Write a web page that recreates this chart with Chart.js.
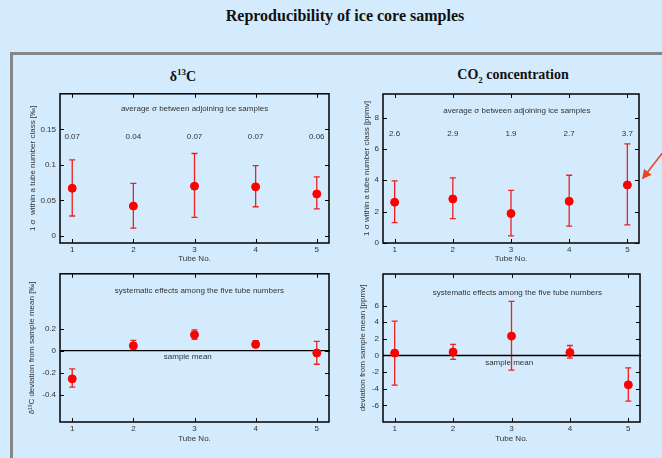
<!DOCTYPE html>
<html>
<head>
<meta charset="utf-8">
<title>Reproducibility of ice core samples</title>
<script src="https://cdn.jsdelivr.net/npm/chart.js@4.4.1/dist/chart.umd.min.js"></script>
<style>
    html, body { margin: 0; padding: 0; }
    body {
        width: 662px; height: 458px; overflow: hidden; position: relative;
        background: #d3ebfc;
        font-family: "Liberation Sans", Arial, sans-serif;
    }
    #mainTitle {
        position: absolute; left: 0; top: 7px; width: 690px; text-align: center;
        font: bold 16px "Liberation Serif", "Times New Roman", serif; color: #111;
    }
    #panel {
        position: absolute; left: 10px; top: 52px; width: 720px; height: 480px;
        border-top: 3px solid #868686; border-left: 3px solid #868686;
    }
    .head {
        position: absolute; width: 200px; text-align: center;
        font: bold 14px "Liberation Serif", "Times New Roman", serif; color: #111;
    }
    .box { position: absolute; width: 320px; height: 180px; }
    #arrow { position: absolute; left: 0; top: 0; }
</style>
</head>
<body>
<div id="mainTitle">Reproducibility of ice core samples</div>
<div id="panel"></div>
<div class="head" style="left:83px; top:67px;">&delta;<sup style="font-size:9px;">13</sup>C</div>
<div class="head" style="left:413px; top:67px;">CO<sub style="font-size:9px;">2</sub> concentration</div>

<div class="box" style="left:20px; top:85px;"><canvas id="sigmaD13C" width="320" height="180"></canvas></div>
<div class="box" style="left:343px; top:85px;"><canvas id="sigmaCO2" width="320" height="180"></canvas></div>
<div class="box" style="left:20px; top:265px;"><canvas id="devD13C" width="320" height="180"></canvas></div>
<div class="box" style="left:343px; top:265px;"><canvas id="devCO2" width="320" height="180"></canvas></div>

<svg id="arrow" width="662" height="458">
    <defs>
        <marker id="head" markerWidth="6" markerHeight="6" refX="5" refY="3" orient="auto">
            <path d="M0,0 L6,3 L0,6 z" fill="#ee4422"/>
        </marker>
    </defs>
    <line x1="664" y1="151" x2="643" y2="178" stroke="#ee4422" stroke-width="1.6" marker-end="url(#head)"/>
</svg>

<script>
// tube numbers (x axis)
const tubes = [1, 2, 3, 4, 5];
const xTicks = [1, 2, 3, 4, 5];

// d13C: 1 sigma within a tube number class [permil]
const d13cSigma = [0.067, 0.042, 0.070, 0.069, 0.059];
const d13cSigmaLow = [0.028, 0.011, 0.026, 0.041, 0.038];
const d13cSigmaHigh = [0.107, 0.074, 0.116, 0.099, 0.083];
const d13cSigmaLabels = ['0.07', '0.04', '0.07', '0.07', '0.06'];
const d13cSigmaTicks = [0, 0.05, 0.1, 0.15];

// CO2: 1 sigma within a tube number class [ppmv]
const co2Sigma = [2.6, 2.81, 1.88, 2.66, 3.7];
const co2SigmaLow = [1.3, 1.56, 0.45, 1.07, 1.15];
const co2SigmaHigh = [3.96, 4.15, 3.36, 4.32, 6.32];
const co2SigmaLabels = ['2.6', '2.9', '1.9', '2.7', '3.7'];
const co2SigmaTicks = [0, 2, 4, 6, 8];

// d13C deviation from sample mean [permil]
const d13cDev = [-0.257, 0.045, 0.145, 0.057, -0.021];
const d13cDevLow = [-0.333, 0.006, 0.103, 0.033, -0.124];
const d13cDevHigh = [-0.166, 0.094, 0.19, 0.09, 0.085];
const d13cDevTicks = [-0.4, -0.2, 0, 0.2];

// CO2 deviation from sample mean [ppmv]
const co2Dev = [0.29, 0.41, 2.33, 0.36, -3.53];
const co2DevLow = [-3.57, -0.48, -1.76, -0.31, -5.5];
const co2DevHigh = [4.14, 1.33, 6.5, 1.2, -1.48];
const co2DevTicks = [-6, -4, -2, 0, 2, 4, 6];

const TEXT = '#333';
const RED = '#ff0000';
const smallFont = { family: '"Liberation Sans", Arial, sans-serif', size: 8 };

// error bars under the points
const errorBars = {
    id: 'errorBars',
    beforeDatasetsDraw(chart, args, opts) {
        if (!opts.low) return;
        const { ctx, scales: { x, y } } = chart;
        ctx.save();
        ctx.strokeStyle = '#ee2020';
        ctx.lineWidth = 1.3;
        opts.low.forEach((lo, i) => {
            const px = x.getPixelForValue(tubes[i]);
            const y1 = y.getPixelForValue(lo);
            const y2 = y.getPixelForValue(opts.high[i]);
            ctx.beginPath();
            ctx.moveTo(px, y1); ctx.lineTo(px, y2);
            ctx.moveTo(px - 3, y1); ctx.lineTo(px + 3, y1);
            ctx.moveTo(px - 3, y2); ctx.lineTo(px + 3, y2);
            ctx.stroke();
        });
        ctx.restore();
    }
};

// box frame with inward ticks, zero line and notes
const frame = {
    id: 'frame',
    beforeDatasetsDraw(chart, args, opts) {
        const { ctx, chartArea: a, scales: { y } } = chart;
        if (opts.zeroLine) {
            const py = y.getPixelForValue(0);
            ctx.save();
            ctx.strokeStyle = '#000';
            ctx.lineWidth = 1.3;
            ctx.beginPath();
            ctx.moveTo(a.left, py); ctx.lineTo(a.right + 1, py);
            ctx.stroke();
            ctx.restore();
        }
    },
    afterDraw(chart, args, opts) {
        const { ctx, chartArea: a, scales: { x, y } } = chart;
        ctx.save();
        ctx.strokeStyle = '#000';
        ctx.lineWidth = 1.5;
        ctx.strokeRect(a.left, a.top, a.right - a.left, a.bottom - a.top);
        ctx.lineWidth = 1;
        ctx.beginPath();
        x.ticks.forEach(t => {
            const px = Math.round(x.getPixelForValue(t.value)) + 0.5;
            ctx.moveTo(px, a.bottom); ctx.lineTo(px, a.bottom - 4);
            ctx.moveTo(px, a.top); ctx.lineTo(px, a.top + 4);
        });
        y.ticks.forEach(t => {
            const py = Math.round(y.getPixelForValue(t.value)) + 0.5;
            ctx.moveTo(a.left, py); ctx.lineTo(a.left + 4, py);
            ctx.moveTo(a.right, py); ctx.lineTo(a.right - 4, py);
        });
        ctx.stroke();

        ctx.fillStyle = TEXT;
        ctx.font = '8px "Liberation Sans", Arial, sans-serif';
        ctx.textAlign = 'center';
        ctx.textBaseline = 'middle';
        (opts.notes || []).forEach(n => {
            ctx.fillText(n.text, x.getPixelForValue(n.x), y.getPixelForValue(n.y));
        });
        if (opts.values) {
            opts.values.forEach((v, i) => {
                ctx.fillText(v, x.getPixelForValue(tubes[i]), y.getPixelForValue(opts.valuesY));
            });
        }
        ctx.restore();
    }
};

Chart.register(errorBars, frame);

function makeChart(id, cfg) {
    const ctx = document.getElementById(id);
    if (!ctx) return null;

    return new Chart(ctx, {
        type: 'scatter',
        data: {
            datasets: [{
                data: tubes.map((t, i) => ({ x: t, y: cfg.values[i] })),
                backgroundColor: RED,
                borderColor: RED,
                pointRadius: 4,
                pointHoverRadius: 4
            }]
        },
        options: {
            responsive: false,
            animation: false,
            layout: { padding: cfg.padding },
            plugins: {
                legend: { display: false },
                tooltip: { enabled: false },
                errorBars: { low: cfg.low, high: cfg.high },
                frame: {
                    zeroLine: cfg.zeroLine,
                    notes: cfg.notes,
                    values: cfg.labels,
                    valuesY: cfg.labelsY
                }
            },
            scales: {
                x: {
                    type: 'linear',
                    min: 0.8,
                    max: 5.2,
                    afterBuildTicks: s => { s.ticks = xTicks.map(v => ({ value: v })); },
                    afterFit: s => { s.height = cfg.xAxisHeight; },
                    grid: { display: false, drawTicks: false },
                    border: { display: false },
                    ticks: {
                        font: smallFont, color: TEXT, padding: 2,
                        autoSkip: false, maxRotation: 0,
                        callback: v => String(v)
                    },
                    title: {
                        display: true, text: 'Tube No.', font: smallFont, color: TEXT,
                        padding: { top: 0, bottom: 1 }
                    }
                },
                y: {
                    type: 'linear',
                    min: cfg.yMin,
                    max: cfg.yMax,
                    afterBuildTicks: s => { s.ticks = cfg.yTicks.map(v => ({ value: v })); },
                    afterFit: s => { s.width = cfg.yAxisWidth; },
                    grid: { display: false, drawTicks: false },
                    border: { display: false },
                    ticks: {
                        font: smallFont, color: TEXT, padding: 4,
                        autoSkip: false,
                        callback: v => String(v)
                    },
                    title: {
                        display: true, text: cfg.yTitle, font: smallFont, color: TEXT,
                        padding: { top: cfg.yTitlePad, bottom: 0 }
                    }
                }
            }
        }
    });
}

document.addEventListener('DOMContentLoaded', function () {
    window.charts = {
        sigmaD13C: makeChart('sigmaD13C', {
            values: d13cSigma, low: d13cSigmaLow, high: d13cSigmaHigh,
            labels: d13cSigmaLabels, labelsY: 0.139,
            yMin: -0.01, yMax: 0.2, yTicks: d13cSigmaTicks,
            yTitle: '1 \u03c3  within a tube number class [\u2030]', yTitlePad: 8,
            padding: { left: 0, top: 8, right: 11, bottom: 0 },
            yAxisWidth: 40, xAxisHeight: 22,
            notes: [{ text: 'average \u03c3 between adjoining ice samples', x: 3.0, y: 0.179 }]
        }),
        sigmaCO2: makeChart('sigmaCO2', {
            values: co2Sigma, low: co2SigmaLow, high: co2SigmaHigh,
            labels: co2SigmaLabels, labelsY: 6.98,
            yMin: 0, yMax: 9.5, yTicks: co2SigmaTicks,
            yTitle: '1 \u03c3 within a tube number class [ppmv]', yTitlePad: 19,
            padding: { left: 0, top: 9, right: 24, bottom: 0 },
            yAxisWidth: 40, xAxisHeight: 22,
            notes: [{ text: 'average \u03c3 between adjoining ice samples', x: 3.1, y: 8.42 }]
        }),
        devD13C: makeChart('devD13C', {
            values: d13cDev, low: d13cDevLow, high: d13cDevHigh,
            yMin: -0.65, yMax: 0.7, yTicks: d13cDevTicks,
            yTitle: '\u03b4\u00b9\u00b3C deviation from sample mean [\u2030]', yTitlePad: 7,
            padding: { left: 0, top: 8, right: 11, bottom: 0 },
            yAxisWidth: 40, xAxisHeight: 23,
            zeroLine: true,
            notes: [
                { text: 'systematic effects among the five tube numbers', x: 3.08, y: 0.549 },
                { text: 'sample mean', x: 2.89, y: -0.052 }
            ]
        }),
        devCO2: makeChart('devCO2', {
            values: co2Dev, low: co2DevLow, high: co2DevHigh,
            yMin: -8, yMax: 9.8, yTicks: co2DevTicks,
            yTitle: 'deviation from sample mean [ppmv]', yTitlePad: 15,
            padding: { left: 0, top: 9, right: 23, bottom: 0 },
            yAxisWidth: 40, xAxisHeight: 23,
            zeroLine: true,
            notes: [
                { text: 'systematic effects among the five tube numbers', x: 3.1, y: 7.52 },
                { text: 'sample mean', x: 2.96, y: -0.92 }
            ]
        })
    };
});
</script>
</body>
</html>
